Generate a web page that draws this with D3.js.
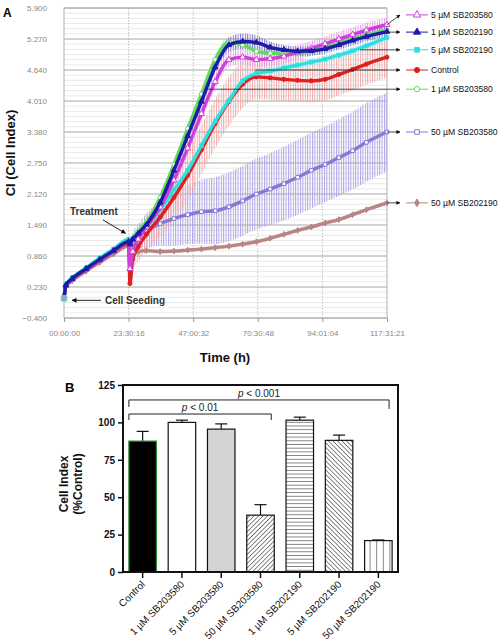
<!DOCTYPE html>
<html><head><meta charset="utf-8">
<script src="https://cdn.jsdelivr.net/npm/d3@7"></script>
<style>body{margin:0;background:#fff}svg{display:block}text{font-family:"Liberation Sans",Arial,sans-serif}</style>
</head><body><svg id="c" width="504" height="643"></svg>
<script>
// ---------- Panel A data ----------
const hours = [0,0.7,3,8,13,18,23.5,24,25,27,30,35,40,45,50,55,60,65,70,75,80,85,90,95,100,105,110,117.5];
const ci5uM203580  = [0,0.26,0.39,0.59,0.78,0.96,1.14, 0.6,0.95,1.2,1.45,1.85,2.4,3.05,3.75,4.4,4.85,4.9,4.85,4.87,4.92,5.0,5.08,5.17,5.27,5.36,5.45,5.56];
const ci1uM202190  = [0,0.27,0.4,0.6,0.79,0.97,1.15, 1.1,1.2,1.32,1.5,1.95,2.6,3.3,4.0,4.7,5.15,5.22,5.2,5.1,5.05,5.02,5.03,5.07,5.15,5.24,5.32,5.42];
const ci5uM202190  = [0,0.28,0.42,0.62,0.82,1.0,1.2, 1.15,1.2,1.3,1.45,1.8,2.2,2.6,3.1,3.6,4.02,4.42,4.57,4.62,4.68,4.74,4.8,4.86,4.94,5.03,5.13,5.3];
const ciControl    = [0,0.26,0.39,0.58,0.77,0.95,1.12, 0.3,0.8,1.05,1.3,1.65,2.05,2.5,3.02,3.55,4.0,4.35,4.5,4.48,4.45,4.43,4.42,4.45,4.55,4.65,4.76,4.9];
const ci1uM203580  = [0,0.27,0.4,0.6,0.79,0.97,1.15, 1.12,1.22,1.36,1.55,2.05,2.72,3.45,4.15,4.85,5.2,5.15,5.02,4.98,4.97,4.98,5.03,5.1,5.18,5.27,5.35,5.45];
const ci50uM203580 = [0,0.26,0.39,0.58,0.77,0.95,1.12, 1.05,1.15,1.25,1.38,1.52,1.62,1.7,1.76,1.78,1.86,1.98,2.12,2.22,2.33,2.46,2.6,2.72,2.86,3.0,3.17,3.38];
const ci50uM202190 = [0,0.24,0.36,0.55,0.73,0.9,1.06, 0.65,0.85,0.95,0.97,0.95,0.96,0.98,1.0,1.03,1.06,1.1,1.15,1.22,1.3,1.38,1.45,1.53,1.6,1.7,1.8,1.94];

const err5uM203580  = [0,0.02,0.02,0.02,0.02,0.02,0.03, 0.1,0.12,0.13,0.14,0.15,0.15,0.15,0.15,0.15,0.15,0.15,0.15,0.15,0.15,0.15,0.15,0.15,0.15,0.15,0.15,0.15];
const err1uM202190  = [0,0.02,0.02,0.02,0.02,0.02,0.03, 0.05,0.06,0.08,0.1,0.12,0.12,0.12,0.12,0.13,0.15,0.16,0.14,0.12,0.1,0.1,0.1,0.1,0.1,0.1,0.1,0.1];
const err5uM202190  = [0,0.02,0.02,0.02,0.02,0.02,0.03, 0.05,0.06,0.07,0.08,0.08,0.08,0.08,0.08,0.08,0.08,0.08,0.08,0.08,0.08,0.08,0.08,0.08,0.08,0.08,0.08,0.08];
const errControl    = [0,0.02,0.03,0.03,0.03,0.03,0.05, 0.1,0.2,0.3,0.35,0.4,0.45,0.5,0.5,0.5,0.5,0.48,0.45,0.44,0.44,0.44,0.44,0.43,0.43,0.42,0.42,0.42];
const err1uM203580  = [0,0.02,0.02,0.02,0.02,0.02,0.03, 0.05,0.06,0.08,0.1,0.1,0.1,0.1,0.1,0.1,0.1,0.1,0.1,0.1,0.1,0.1,0.1,0.1,0.1,0.1,0.1,0.1];
const err50uM203580 = [0,0.02,0.02,0.02,0.02,0.02,0.05, 0.1,0.18,0.25,0.35,0.45,0.55,0.6,0.65,0.68,0.7,0.71,0.72,0.73,0.75,0.76,0.77,0.77,0.78,0.79,0.8,0.8];
const err50uM202190 = [0,0.02,0.02,0.02,0.02,0.02,0.03, 0.04,0.04,0.04,0.04,0.04,0.04,0.04,0.04,0.04,0.04,0.04,0.04,0.04,0.04,0.04,0.04,0.04,0.04,0.04,0.04,0.05];

const xTickHours  = [0,23.5044,47.0089,70.5133,94.0178,117.5225];
const xTickLabels = ["00:00:00","23:30:16","47:00:32","70:30:48","94:01:04","117:31:21"];
const yTicksA     = [-0.4,0.23,0.86,1.49,2.12,2.75,3.38,4.01,4.64,5.27,5.9];

const legendNames   = ["5 µM SB203580","1 µM SB202190","5 µM SB202190","Control","1 µM SB203580","50 µM SB203580","50 µM SB202190"];
const legendLevels  = [5.76,5.41,5.05,4.64,4.25,3.38,1.94];   // CI level of each legend row
const arrowFromHour = [117.5,117.5,107.7,69.5,52,117.5,117.5];
const arrowFromCI   = [5.56,5.41,5.05,4.64,4.25,3.38,1.94];

// ---------- Panel B data ----------
const barCategories = ["Control","1 µM SB203580","5 µM SB203580","50 µM SB203580","1 µM SB202190","5 µM SB202190","50 µM SB202190"];
const barMeans = [87.5,100,95.5,38,101.5,88,21];
const barSEM   = [6.5,1.5,3.5,7,2,3.5,0.4];
const yTicksB  = [0,25,50,75,100,125];

// ---------- setup ----------
const svg = d3.select("#c");
const defs = svg.append("defs");
const FONT = '"Liberation Sans",Arial,sans-serif';

const series = [
  {name:"50 µM SB202190", v:ci50uM202190, e:err50uM202190, color:"#b88585", err:"#d8b0b0", sym:d3.symbolDiamond, fill:true, size:10},
  {name:"50 µM SB203580", v:ci50uM203580, e:err50uM203580, color:"#8678d4", err:"#aaa0e2", sym:d3.symbolSquare, fill:false, size:13},
  {name:"Control",        v:ciControl,    e:errControl,    color:"#dd2020", err:"#f0a4a4", sym:d3.symbolCircle, fill:true, size:13},
  {name:"1 µM SB203580",  v:ci1uM203580,  e:err1uM203580,  color:"#62d862", err:"#9ee69e", sym:d3.symbolCircle, fill:false, size:14},
  {name:"5 µM SB202190",  v:ci5uM202190,  e:err5uM202190,  color:"#30dede", err:"#8eeaea", sym:d3.symbolSquare, fill:true, size:13},
  {name:"5 µM SB203580",  v:ci5uM203580,  e:err5uM203580,  color:"#d040d8", err:"#e79be9", sym:d3.symbolTriangle, fill:false, size:16},
  {name:"1 µM SB202190",  v:ci1uM202190,  e:err1uM202190,  color:"#1c1ca8", err:"#7a70cc", sym:d3.symbolTriangle, fill:true, size:14},
];
const byName = {}; series.forEach(s=>byName[s.name]=s);

// ---------- Panel A ----------
const xA = d3.scaleLinear().domain([0,117.5225]).range([64,387]);
const yA = d3.scaleLinear().domain([-0.4,5.9]).range([318,8]);
const gA = svg.append("g");

const minor = d3.range(0,61).map(i=>-0.4+i*0.105);
gA.append("g").selectAll("line").data(minor).join("line")
  .attr("x1",xA(0)).attr("x2",xA(117.5225)).attr("y1",d=>yA(d)).attr("y2",d=>yA(d))
  .attr("stroke","#e4e4e4").attr("stroke-width",0.8);
gA.append("g").selectAll("line").data(xTickHours.slice(1,-1)).join("line")
  .attr("x1",d=>xA(d)).attr("x2",d=>xA(d)).attr("y1",yA(5.9)).attr("y2",yA(-0.4))
  .attr("stroke","#b8b8b8").attr("stroke-width",0.9).attr("stroke-dasharray","1.5,1.5");
gA.append("g").selectAll("line").data(yTicksA).join("line")
  .attr("x1",xA(0)).attr("x2",xA(117.5225)).attr("y1",d=>yA(d)).attr("y2",d=>yA(d))
  .attr("stroke","#b0b0b0").attr("stroke-width",1);
gA.append("rect").attr("x",xA(0)).attr("y",yA(5.9)).attr("width",xA(117.5225)-xA(0)).attr("height",yA(-0.4)-yA(5.9))
  .attr("fill","none").attr("stroke","#b0b0b0");

const axisY = d3.axisLeft(yA).tickValues(yTicksA).tickFormat(d3.format(".3f")).tickSize(0).tickPadding(17);
const gy = gA.append("g").attr("transform",`translate(${xA(0)},0)`).call(axisY);
gy.select(".domain").remove();
gy.selectAll("text").attr("font-size",8).attr("fill","#888").attr("font-family",FONT);
const axisX = d3.axisBottom(xA).tickValues(xTickHours).tickFormat((d,i)=>xTickLabels[i]).tickSize(4).tickPadding(8);
const gx = gA.append("g").attr("transform",`translate(0,${yA(-0.4)})`).call(axisX);
gx.select(".domain").remove();
gx.selectAll("line").attr("stroke","#999");
gx.selectAll("text").attr("font-size",8).attr("fill","#888").attr("font-family",FONT);

series.forEach((s,i)=>{
  const p = defs.append("pattern").attr("id","ep"+i).attr("patternUnits","userSpaceOnUse").attr("width",2.4).attr("height",10);
  p.append("rect").attr("x",0).attr("y",0).attr("width",1).attr("height",10).attr("fill",s.err);
});
const idx = d3.range(hours.length);
const area = s => d3.area().curve(d3.curveMonotoneX).x(i=>xA(hours[i])).y0(i=>yA(s.v[i]-s.e[i])).y1(i=>yA(s.v[i]+s.e[i]));
series.forEach((s,k)=>{
  gA.append("path").datum(idx).attr("d",area(s)).attr("fill",`url(#ep${k})`).attr("opacity",0.95);
});
const line = s => d3.line().curve(d3.curveMonotoneX).x(i=>xA(hours[i])).y(i=>yA(s.v[i]));
series.forEach(s=>{
  gA.append("path").datum(idx).attr("d",line(s)).attr("fill","none").attr("stroke",s.color).attr("stroke-width",3.4).attr("stroke-linejoin","round");
  gA.append("g").selectAll("path").data(idx.slice(1)).join("path")
    .attr("transform",i=>`translate(${xA(hours[i])},${yA(s.v[i])})`)
    .attr("d",d3.symbol().type(s.sym).size(s.size))
    .attr("fill",s.fill?s.color:"#fff").attr("stroke",s.color).attr("stroke-width",1);
});
// cell seeding point (t = 0)
gA.append("path").attr("transform",`translate(${xA(hours[0])},${yA(ci5uM202190[0])})`)
  .attr("d",d3.symbol().type(d3.symbolSquare).size(30)).attr("fill","#9aa6b0").attr("stroke","#5fd0e0").attr("stroke-width",1);

const mk = defs.append("marker").attr("id","arr").attr("viewBox","0 0 10 10").attr("refX",9).attr("refY",5)
  .attr("markerWidth",5).attr("markerHeight",5).attr("orient","auto");
mk.append("path").attr("d","M0,0L10,5L0,10z").attr("fill","#111");

legendNames.forEach((n,i)=>{
  const s = byName[n];
  const ly = yA(legendLevels[i]);
  gA.append("line").attr("x1",xA(arrowFromHour[i])).attr("y1",yA(arrowFromCI[i])).attr("x2",400).attr("y2",ly)
    .attr("stroke","#222").attr("stroke-width",0.8).attr("marker-end","url(#arr)");
  gA.append("line").attr("x1",406).attr("x2",428).attr("y1",ly).attr("y2",ly).attr("stroke",s.color).attr("stroke-width",1);
  gA.append("path").attr("transform",`translate(417,${ly})`).attr("d",d3.symbol().type(s.sym).size(s.size+8))
    .attr("fill",s.fill?s.color:"#fff").attr("stroke",s.color).attr("stroke-width",1);
  gA.append("text").attr("x",431).attr("y",ly).attr("dy","0.35em").attr("font-size",8.6).attr("fill","#111").text(n);
});

gA.append("text").attr("x",70).attr("y",215).attr("font-size",10).attr("font-weight","bold").attr("fill","#333").text("Treatment");
gA.append("line").attr("x1",103).attr("y1",220).attr("x2",xA(23.5)-3).attr("y2",yA(1.32))
  .attr("stroke","#222").attr("stroke-width",1).attr("marker-end","url(#arr)");
gA.append("text").attr("x",105).attr("y",304).attr("font-size",10).attr("font-weight","bold").attr("fill","#333").text("Cell Seeding");
gA.append("line").attr("x1",101).attr("y1",yA(0)+2).attr("x2",xA(0)+8).attr("y2",yA(0)+2)
  .attr("stroke","#222").attr("stroke-width",1).attr("marker-end","url(#arr)");

svg.append("text").attr("transform","translate(15,153) rotate(-90)").attr("text-anchor","middle")
  .attr("font-size",13).attr("font-weight","bold").attr("fill","#111").text("CI (Cell Index)");
svg.append("text").attr("x",225).attr("y",362).attr("text-anchor","middle")
  .attr("font-size",13).attr("font-weight","bold").attr("fill","#111").text("Time (h)");
svg.append("text").attr("x",3).attr("y",17).attr("font-family","'Liberation Serif','Times New Roman',serif")
  .attr("font-size",12).attr("font-weight","bold").text("A");

// ---------- Panel B ----------
const xB = d3.scaleBand().domain(barCategories).range([123,398]).paddingInner(0.3).paddingOuter(0.15);
const yB = d3.scaleLinear().domain([0,125]).range([572,385]);
const gB = svg.append("g");

function hatch(id, angle, spacing, w){
  const p = defs.append("pattern").attr("id",id).attr("patternUnits","userSpaceOnUse")
    .attr("width",spacing).attr("height",spacing).attr("patternTransform",`rotate(${angle})`);
  p.append("rect").attr("width",spacing).attr("height",spacing).attr("fill","#fff");
  p.append("line").attr("x1",0).attr("y1",0).attr("x2",0).attr("y2",spacing).attr("stroke","#111").attr("stroke-width",w);
}
hatch("hDiagUp",45,3.2,1);
hatch("hHoriz",90,3.7,1);
hatch("hDiagDn",-45,3.2,1);
hatch("hVert",0,6.6,1);
const barFills = ["#000","#fff","#d4d4d4","url(#hDiagUp)","url(#hHoriz)","url(#hDiagDn)","url(#hVert)"];
const barStrokes = ["#2e8a2e","#111","#111","#111","#111","#111","#111"];

gB.append("g").selectAll("g").data(barCategories).join("g").each(function(c,i){
  const g = d3.select(this), cx = xB(c)+xB.bandwidth()/2;
  g.append("line").attr("x1",cx).attr("x2",cx).attr("y1",yB(barMeans[i])).attr("y2",yB(barMeans[i]+barSEM[i])).attr("stroke","#111").attr("stroke-width",1.2);
  g.append("line").attr("x1",cx-6).attr("x2",cx+6).attr("y1",yB(barMeans[i]+barSEM[i])).attr("y2",yB(barMeans[i]+barSEM[i])).attr("stroke","#111").attr("stroke-width",1.2);
});
gB.append("g").selectAll("rect").data(barCategories).join("rect")
  .attr("x",c=>xB(c)).attr("width",xB.bandwidth())
  .attr("y",(c,i)=>yB(barMeans[i])).attr("height",(c,i)=>yB(0)-yB(barMeans[i]))
  .attr("fill",(c,i)=>barFills[i]).attr("stroke",(c,i)=>barStrokes[i]).attr("stroke-width",1.2);

gB.append("rect").attr("x",123).attr("y",yB(125)).attr("width",398-123).attr("height",yB(0)-yB(125))
  .attr("fill","none").attr("stroke","#111").attr("stroke-width",2);

const axisYB = d3.axisLeft(yB).tickValues(yTicksB).tickSize(5).tickPadding(3);
const gyB = gB.append("g").attr("transform","translate(123,0)").call(axisYB);
gyB.select(".domain").remove();
gyB.selectAll("line").attr("stroke","#111").attr("stroke-width",1.5);
gyB.selectAll("text").attr("font-size",10).attr("font-weight","bold").attr("fill","#111").attr("font-family",FONT);

const axisXB = d3.axisBottom(xB).tickSize(6).tickFormat("");
const gxB = gB.append("g").attr("transform",`translate(0,${yB(0)})`).call(axisXB);
gxB.select(".domain").remove();
gxB.selectAll("line").attr("stroke","#111").attr("stroke-width",1.5);
gB.append("g").selectAll("text").data(barCategories).join("text")
  .attr("transform",c=>`translate(${xB(c)+xB.bandwidth()/2+3},${yB(0)+13}) rotate(-45)`)
  .attr("text-anchor","end").attr("font-size",10).attr("fill","#111").text(c=>c);

function bracket(i0,i1,level,drop0,drop1,label){
  const x0 = xB(barCategories[i0]), x1 = xB(barCategories[i1])+xB.bandwidth()-3;
  const y = yB(level);
  gB.append("path").attr("d",`M${x0},${y+drop0}V${y}H${x1}V${y+drop1}`).attr("fill","none").attr("stroke","#222").attr("stroke-width",1);
  const t = gB.append("text").attr("x",(x0+x1)/2).attr("y",y-3).attr("text-anchor","middle").attr("font-size",10).attr("fill","#222");
  t.append("tspan").attr("font-style","italic").text("p");
  t.append("tspan").text(label);
}
bracket(0,6,115,7,9," < 0.001");
bracket(0,3,105.6,6,6," < 0.01");

gB.append("text").attr("transform","translate(68,484) rotate(-90)").attr("text-anchor","middle")
  .attr("font-size",12).attr("font-weight","bold").attr("fill","#111").text("Cell Index");
gB.append("text").attr("transform","translate(82,484) rotate(-90)").attr("text-anchor","middle")
  .attr("font-size",12).attr("font-weight","bold").attr("fill","#111").text("(%Control)");
svg.append("text").attr("x",65).attr("y",392).attr("font-family","'Liberation Serif','Times New Roman',serif")
  .attr("font-size",13).attr("font-weight","bold").text("B");
</script></body></html>
